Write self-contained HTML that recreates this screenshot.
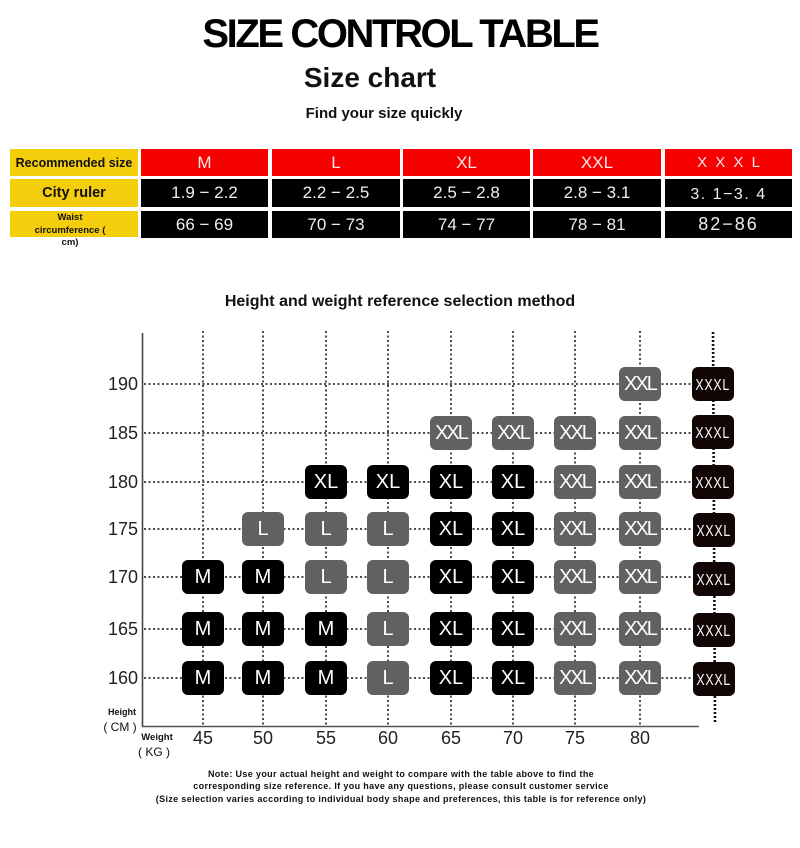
<!DOCTYPE html>
<html><head><meta charset="utf-8">
<style>
html,body{margin:0;padding:0;background:#fff;}
body{width:800px;height:848px;position:relative;overflow:hidden;font-family:"Liberation Sans",Arial,sans-serif;}
.a{position:absolute;}
.t1{left:0;width:800px;top:13px;text-align:center;font-weight:bold;font-size:40px;letter-spacing:-2.4px;line-height:42px;color:#000;}
.t2{left:0;width:740px;top:61px;text-align:center;font-weight:bold;font-size:28px;line-height:34px;color:#111;}
.t3{left:0;width:768px;top:105px;text-align:center;font-weight:bold;font-size:15px;line-height:18px;color:#111;}
.y{background:#f4cd0c;color:#111;font-weight:bold;display:flex;align-items:center;justify-content:center;text-align:center;}
.r{background:#f70000;color:#fbe6e6;font-size:17px;display:flex;align-items:center;justify-content:center;}
.k{background:#000;color:#eee;font-size:17px;display:flex;align-items:center;justify-content:center;}
.bx{position:absolute;width:42px;height:34px;border-radius:6px;color:#fff;font-size:20px;display:flex;align-items:center;justify-content:center;line-height:1;}
.b{background:#000;}
.g{background:#616161;}
.x3{background:#110505;font-size:14px;}
.x3 span{display:inline-block;transform:scale(0.88,1.15);letter-spacing:0.9px;}
.xx{letter-spacing:-2px;}
.yl{position:absolute;left:88px;width:50px;text-align:right;font-size:18px;line-height:20px;color:#222;}
.xl{position:absolute;width:40px;text-align:center;font-size:18px;line-height:20px;color:#222;top:728px;}
</style></head><body>

<div class="a t1">SIZE CONTROL TABLE</div>
<div class="a t2">Size chart</div>
<div class="a t3">Find your size quickly</div>

<!-- table -->
<div class="a y" style="left:10px;top:149px;width:128px;height:27px;font-size:12.5px;">Recommended size</div>
<div class="a y" style="left:10px;top:179px;width:128px;height:28px;font-size:14.5px;">City ruler</div>
<div class="a y" style="left:10px;top:211px;width:128px;height:26px;"></div>
<div class="a" style="left:10px;top:212px;width:120px;font-size:9.5px;font-weight:bold;line-height:12.5px;text-align:center;color:#111;">Waist<br>circumference (<br>cm)</div>

<div class="a r" style="left:141px;top:149px;width:127px;height:27px;">M</div>
<div class="a r" style="left:272px;top:149px;width:128px;height:27px;">L</div>
<div class="a r" style="left:403px;top:149px;width:127px;height:27px;">XL</div>
<div class="a r" style="left:533px;top:149px;width:128px;height:27px;">XXL</div>
<div class="a r" style="left:665px;top:149px;width:127px;height:27px;font-size:15px;word-spacing:4px;">X X X L</div>

<div class="a k" style="left:141px;top:179px;width:127px;height:28px;">1.9 − 2.2</div>
<div class="a k" style="left:272px;top:179px;width:128px;height:28px;">2.2 − 2.5</div>
<div class="a k" style="left:403px;top:179px;width:127px;height:28px;">2.5 − 2.8</div>
<div class="a k" style="left:533px;top:179px;width:128px;height:28px;">2.8 − 3.1</div>
<div class="a k" style="left:665px;top:179px;width:127px;height:28px;font-size:16px;letter-spacing:1.5px;padding-top:3px;box-sizing:border-box;">3. 1−3. 4</div>

<div class="a k" style="left:141px;top:211px;width:127px;height:27px;">66 − 69</div>
<div class="a k" style="left:272px;top:211px;width:128px;height:27px;">70 − 73</div>
<div class="a k" style="left:403px;top:211px;width:127px;height:27px;">74 − 77</div>
<div class="a k" style="left:533px;top:211px;width:128px;height:27px;">78 − 81</div>
<div class="a k" style="left:665px;top:211px;width:127px;height:27px;font-size:18px;letter-spacing:2px;">82−86</div>

<!-- chart title -->
<div class="a" style="left:0;width:800px;top:292px;text-align:center;font-weight:bold;font-size:16px;line-height:20px;color:#111;">Height and weight reference selection method</div>

<svg class="a" style="left:0;top:0" width="800" height="848">
<g stroke="#4a4a4a" stroke-width="2" stroke-dasharray="2 2.5" fill="none">
<line x1="144" y1="384" x2="692" y2="384"/>
<line x1="144" y1="433" x2="692" y2="433"/>
<line x1="144" y1="482" x2="692" y2="482"/>
<line x1="144" y1="529" x2="692" y2="529"/>
<line x1="144" y1="577" x2="692" y2="577"/>
<line x1="144" y1="629" x2="692" y2="629"/>
<line x1="144" y1="678" x2="692" y2="678"/>
<line x1="203" y1="331" x2="203" y2="725"/>
<line x1="263" y1="331" x2="263" y2="725"/>
<line x1="326" y1="331" x2="326" y2="725"/>
<line x1="388" y1="331" x2="388" y2="725"/>
<line x1="451" y1="331" x2="451" y2="725"/>
<line x1="513" y1="331" x2="513" y2="725"/>
<line x1="575" y1="331" x2="575" y2="725"/>
<line x1="640" y1="331" x2="640" y2="725"/>
</g>
<line x1="713" y1="332" x2="715" y2="722" stroke="#111" stroke-width="2.6" stroke-dasharray="2 2"/>
<line x1="142.5" y1="333" x2="142.5" y2="727" stroke="#444" stroke-width="1.6"/>
<line x1="142" y1="726.5" x2="699" y2="726.5" stroke="#555" stroke-width="1.4"/>
</svg>

<!-- y labels -->
<div class="yl" style="top:374px;">190</div>
<div class="yl" style="top:423px;">185</div>
<div class="yl" style="top:472px;">180</div>
<div class="yl" style="top:519px;">175</div>
<div class="yl" style="top:567px;">170</div>
<div class="yl" style="top:619px;">165</div>
<div class="yl" style="top:668px;">160</div>

<!-- x labels -->
<div class="xl" style="left:183px;">45</div>
<div class="xl" style="left:243px;">50</div>
<div class="xl" style="left:306px;">55</div>
<div class="xl" style="left:368px;">60</div>
<div class="xl" style="left:431px;">65</div>
<div class="xl" style="left:493px;">70</div>
<div class="xl" style="left:555px;">75</div>
<div class="xl" style="left:620px;">80</div>

<div class="a" style="left:104px;top:707px;width:36px;text-align:center;font-size:9px;font-weight:bold;line-height:11px;color:#111;">Height</div>
<div class="a" style="left:100px;top:720px;width:40px;text-align:center;font-size:12px;line-height:14px;color:#111;">( CM )</div>
<div class="a" style="left:138px;top:732px;width:38px;text-align:center;font-size:9.5px;font-weight:bold;line-height:12px;color:#111;">Weight</div>
<div class="a" style="left:135px;top:745px;width:38px;text-align:center;font-size:12px;line-height:14px;color:#111;">( KG )</div>

<!-- boxes row 190 -->
<div class="bx g xx" style="left:619px;top:367px;">XXL</div>
<!-- 185 -->
<div class="bx g xx" style="left:430px;top:416px;">XXL</div>
<div class="bx g xx" style="left:492px;top:416px;">XXL</div>
<div class="bx g xx" style="left:554px;top:416px;">XXL</div>
<div class="bx g xx" style="left:619px;top:416px;">XXL</div>
<!-- 180 -->
<div class="bx b" style="left:305px;top:465px;">XL</div>
<div class="bx b" style="left:367px;top:465px;">XL</div>
<div class="bx b" style="left:430px;top:465px;">XL</div>
<div class="bx b" style="left:492px;top:465px;">XL</div>
<div class="bx g xx" style="left:554px;top:465px;">XXL</div>
<div class="bx g xx" style="left:619px;top:465px;">XXL</div>
<!-- 175 -->
<div class="bx g" style="left:242px;top:512px;">L</div>
<div class="bx g" style="left:305px;top:512px;">L</div>
<div class="bx g" style="left:367px;top:512px;">L</div>
<div class="bx b" style="left:430px;top:512px;">XL</div>
<div class="bx b" style="left:492px;top:512px;">XL</div>
<div class="bx g xx" style="left:554px;top:512px;">XXL</div>
<div class="bx g xx" style="left:619px;top:512px;">XXL</div>
<!-- 170 -->
<div class="bx b" style="left:182px;top:560px;">M</div>
<div class="bx b" style="left:242px;top:560px;">M</div>
<div class="bx g" style="left:305px;top:560px;">L</div>
<div class="bx g" style="left:367px;top:560px;">L</div>
<div class="bx b" style="left:430px;top:560px;">XL</div>
<div class="bx b" style="left:492px;top:560px;">XL</div>
<div class="bx g xx" style="left:554px;top:560px;">XXL</div>
<div class="bx g xx" style="left:619px;top:560px;">XXL</div>
<!-- 165 -->
<div class="bx b" style="left:182px;top:612px;">M</div>
<div class="bx b" style="left:242px;top:612px;">M</div>
<div class="bx b" style="left:305px;top:612px;">M</div>
<div class="bx g" style="left:367px;top:612px;">L</div>
<div class="bx b" style="left:430px;top:612px;">XL</div>
<div class="bx b" style="left:492px;top:612px;">XL</div>
<div class="bx g xx" style="left:554px;top:612px;">XXL</div>
<div class="bx g xx" style="left:619px;top:612px;">XXL</div>
<!-- 160 -->
<div class="bx b" style="left:182px;top:661px;">M</div>
<div class="bx b" style="left:242px;top:661px;">M</div>
<div class="bx b" style="left:305px;top:661px;">M</div>
<div class="bx g" style="left:367px;top:661px;">L</div>
<div class="bx b" style="left:430px;top:661px;">XL</div>
<div class="bx b" style="left:492px;top:661px;">XL</div>
<div class="bx g xx" style="left:554px;top:661px;">XXL</div>
<div class="bx g xx" style="left:619px;top:661px;">XXL</div>

<!-- XXXL column -->
<div class="bx x3" style="left:692px;top:367px;"><span>XXXL</span></div>
<div class="bx x3" style="left:692px;top:415px;"><span>XXXL</span></div>
<div class="bx x3" style="left:692px;top:465px;"><span>XXXL</span></div>
<div class="bx x3" style="left:693px;top:513px;"><span>XXXL</span></div>
<div class="bx x3" style="left:693px;top:562px;"><span>XXXL</span></div>
<div class="bx x3" style="left:693px;top:613px;"><span>XXXL</span></div>
<div class="bx x3" style="left:693px;top:662px;"><span>XXXL</span></div>

<!-- note -->
<div class="a" style="left:0;width:802px;top:768px;text-align:center;font-size:9px;font-weight:bold;letter-spacing:0.35px;line-height:12.3px;color:#111;">Note: Use your actual height and weight to compare with the table above to find the<br>corresponding size reference. If you have any questions, please consult customer service<br>(Size selection varies according to individual body shape and preferences, this table is for reference only)</div>

</body></html>
